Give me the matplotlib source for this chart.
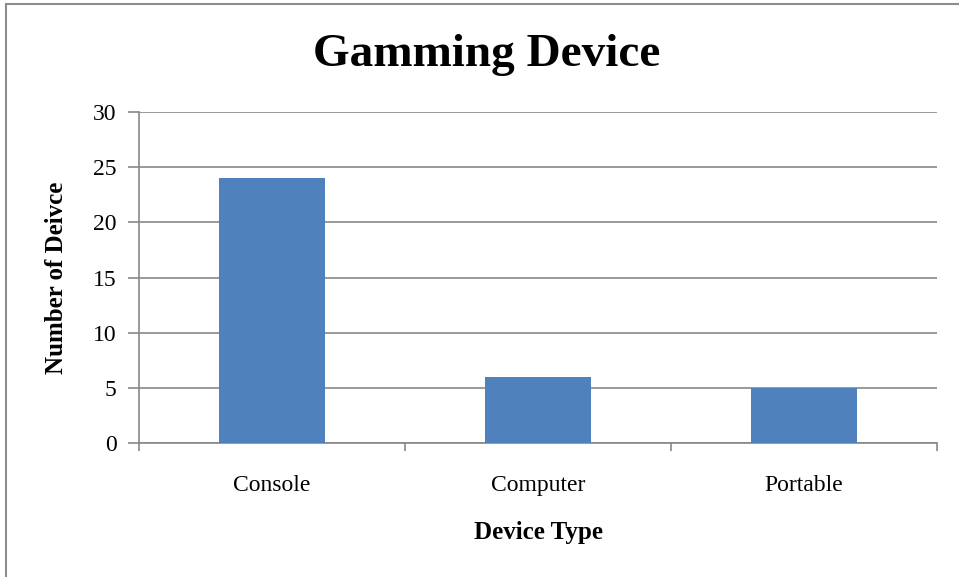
import matplotlib.pyplot as plt
from matplotlib.patches import Rectangle

categories = ["Console", "Computer", "Portable"]
counts = [24, 6, 5]
y_ticks = [0, 5, 10, 15, 20, 25, 30]

W, H = 959, 577
fig = plt.figure(figsize=(W / 100, H / 100), dpi=100)
plt.rcParams['font.family'] = ['Liberation Serif', 'DejaVu Serif']

# plot area in pixels
left, right, top, bottom = 139, 937, 112, 443
ax = fig.add_axes([left / W, 1 - bottom / H, (right - left) / W, (bottom - top) / H])

grid_c = "#878787"
bar_c = "#4F81BD"

x = list(range(len(categories)))
ax.bar(x, counts, width=0.4, color=bar_c, zorder=3)
ax.set_xlim(-0.5, len(categories) - 0.5)
ax.set_ylim(0, 30)
ax.set_yticks(y_ticks)
ax.set_yticklabels([str(v) for v in y_ticks], fontsize=17)
ax.yaxis.grid(True, color=grid_c, linewidth=1.2, zorder=0)

# category labels between boundary ticks
ax.set_xticks([i - 0.5 for i in range(len(categories) + 1)])
ax.set_xticklabels([])
ax.set_xticks(x, minor=True)
ax.set_xticklabels(categories, minor=True, fontsize=17)
ax.tick_params(axis='x', which='minor', length=0, pad=23)
ax.tick_params(axis='x', which='major', length=6, width=1.2, color=grid_c)
ax.tick_params(axis='y', length=8, width=1.2, color=grid_c, pad=8)

for s in ['top', 'right']:
    ax.spines[s].set_visible(False)
for s in ['left', 'bottom']:
    ax.spines[s].set_color(grid_c)
    ax.spines[s].set_linewidth(1.2)

ax.set_xlabel("Device Type", fontsize=18, fontweight='bold', labelpad=18)
ax.set_ylabel("Number of Deivce", fontsize=18, fontweight='bold', labelpad=18)

fig.text(487 / W, 1 - 55 / H, "Gamming Device", ha='center', va='center',
         fontsize=34, fontweight='bold')

# outer chart border (runs past right and bottom edges)
fig.patches.append(Rectangle((6 / W, -0.05), 1.1, 1 - 4 / H + 0.05,
                             transform=fig.transFigure, fill=False,
                             edgecolor="#8c8c8c", linewidth=1.5))

fig.savefig("out.png", dpi=100)
